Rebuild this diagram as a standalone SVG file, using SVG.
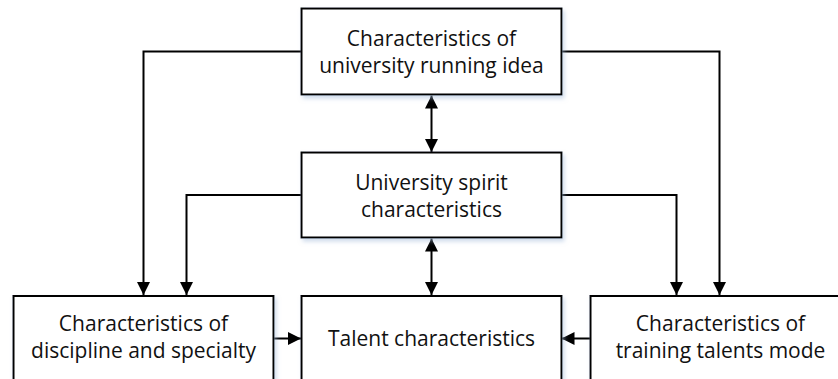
<svg xmlns="http://www.w3.org/2000/svg" width="838" height="379" viewBox="0 0 838 379">
<style>
.box{fill:#fff;stroke:#000;stroke-width:2;filter:url(#sh)}
.t{font-family:"Open Sans","Liberation Sans",Arial,sans-serif;font-size:21px;fill:#111;text-anchor:middle}
.c{fill:none;stroke:#000;stroke-width:2}
</style>
<defs>
<filter id="sh" x="-10%" y="-10%" width="130%" height="140%">
<feDropShadow dx="2" dy="3" stdDeviation="2" flood-color="#9fb8d8" flood-opacity="0.5"/>
</filter>
<marker id="ah" markerUnits="userSpaceOnUse" markerWidth="13" markerHeight="13" refX="13" refY="6.5" orient="auto-start-reverse" viewBox="0 0 13 13">
<path d="M0,0 L13,6.5 L0,13 z" fill="#000"/>
</marker>
</defs>
<g id="connectors">
<path class="c" d="M301,51.5 H143.5 V295" marker-end="url(#ah)"/>
<path class="c" d="M561,51.5 H719.5 V295" marker-end="url(#ah)"/>
<path class="c" d="M301,195 H186.5 V295" marker-end="url(#ah)"/>
<path class="c" d="M561,195 H676.5 V295" marker-end="url(#ah)"/>
<path class="c" d="M431.5,95.5 V152" marker-start="url(#ah)" marker-end="url(#ah)"/>
<path class="c" d="M431.5,238.5 V295" marker-start="url(#ah)" marker-end="url(#ah)"/>
<path class="c" d="M273.5,338.5 H301" marker-end="url(#ah)"/>
<path class="c" d="M590.5,338.5 H561.5" marker-end="url(#ah)"/>
</g>
<g id="n1">
<rect class="box" x="301.5" y="8.5" width="260" height="86"/>
<text class="t" x="431.5" y="46">Characteristics of</text>
<text class="t" x="431.5" y="73">university running idea</text>
</g>
<g id="n2">
<rect class="box" x="301.5" y="152.5" width="260" height="85"/>
<text class="t" x="431.5" y="190">University spirit</text>
<text class="t" x="431.5" y="217">characteristics</text>
</g>
<g id="n3">
<rect class="box" x="13.5" y="296" width="260" height="110"/>
<text class="t" x="143.5" y="331">Characteristics of</text>
<text class="t" x="143.5" y="358">discipline and specialty</text>
</g>
<g id="n4">
<rect class="box" x="301.5" y="296" width="260" height="110"/>
<text class="t" x="431.5" y="345.5">Talent characteristics</text>
</g>
<g id="n5">
<rect class="box" x="590.5" y="296" width="260" height="110"/>
<text class="t" x="720.5" y="331">Characteristics of</text>
<text class="t" x="720.5" y="358">training talents mode</text>
</g>
</svg>
